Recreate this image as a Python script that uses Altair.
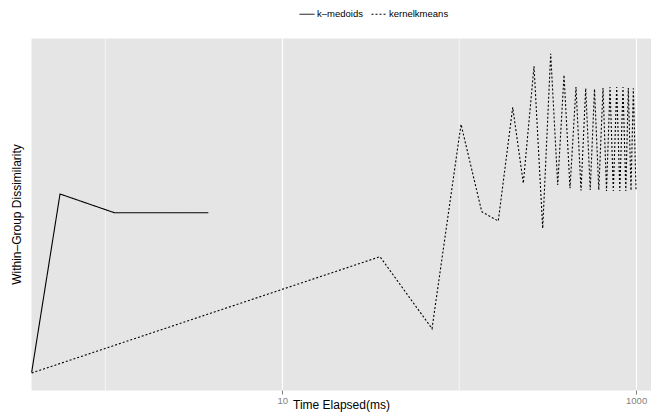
import altair as alt
import pandas as pd

# k-medoids series
km_time = [0.383, 0.554, 1.123, 3.82]
km_diss = [17.7, 196.0, 177.3, 177.3]

# kernelkmeans series
kk_time = [0.383, 35.67, 70.2, 102.4, 134.1, 166.3, 200.7, 230.4, 264.8, 296.5,
           329.0, 360.5, 391.3, 423.0, 457.3, 488.1, 518.9, 550.3, 582.0, 615.3,
           650.0, 680.4, 712.1, 743.3, 776.9, 809.0, 843.3, 874.7, 903.6, 935.9,
           964.5, 998.6]
kk_diss = [17.0, 133.3, 61.3, 265.7, 178.3, 169.0, 282.7, 206.7, 323.7, 161.7,
           336.3, 205.0, 315.0, 201.7, 303.0, 199.5, 301.7, 200.0, 301.0, 200.0,
           302.0, 199.0, 303.0, 199.0, 303.0, 199.0, 303.0, 199.0, 302.0, 199.5,
           301.7, 200.5]

series_names = ["k–medoids", "kernelkmeans"]
major_ticks = [10, 1000]
minor_ticks = [1, 100]

df = pd.concat([
    pd.DataFrame({"time": km_time, "diss": km_diss, "method": series_names[0]}),
    pd.DataFrame({"time": kk_time, "diss": kk_diss, "method": series_names[1]}),
], ignore_index=True)

xscale = alt.Scale(type="log", domain=[0.3797, 1214], nice=False)
yscale = alt.Scale(domain=[0, 352], nice=False, zero=False)

xaxis = alt.Axis(values=major_ticks, format="d", grid=True,
                 gridColor="white", gridWidth=1.2,
                 tickColor="#7f7f7f", tickSize=4, tickWidth=1,
                 labelColor="#7f7f7f", labelFontSize=9.5,
                 labelPadding=1, domain=False,
                 title="Time Elapsed(ms)", titleFontSize=12,
                 titleFontWeight="normal", titleColor="black",
                 titlePadding=-5)

minor = alt.Chart(pd.DataFrame({"t": minor_ticks})).mark_rule(
    color="white", strokeWidth=0.6
).encode(x=alt.X("t:Q", scale=xscale, axis=xaxis))

lines = alt.Chart(df).mark_line(color="black", strokeWidth=1.1).encode(
    x=alt.X("time:Q", scale=xscale, axis=xaxis),
    y=alt.Y("diss:Q", scale=yscale,
            axis=alt.Axis(labels=False, ticks=False, grid=False, domain=False,
                          title="Within–Group Dissimilarity", titleFontSize=12,
                          titleFontWeight="normal", titleColor="black",
                          titlePadding=8)),
    strokeDash=alt.StrokeDash(
        "method:N",
        scale=alt.Scale(domain=series_names, range=[[1, 0], [2, 2]]),
        legend=alt.Legend(title=None, orient="none", legendX=268, legendY=-32,
                          direction="horizontal", symbolType="stroke",
                          symbolSize=225, symbolStrokeWidth=1,
                          symbolStrokeColor="black",
                          labelFontSize=9.5, labelOffset=2, columnPadding=6)),
)

chart = alt.layer(minor, lines).properties(
    width=620, height=352,
    autosize=alt.AutoSizeParams(type="none"),
    padding={"left": 23, "top": 30, "right": 0, "bottom": 22},
).configure(font="Liberation Sans").configure_view(fill="#E5E5E5", stroke="transparent")

chart.save("out.html", embed_options={"renderer": "svg", "actions": False})
